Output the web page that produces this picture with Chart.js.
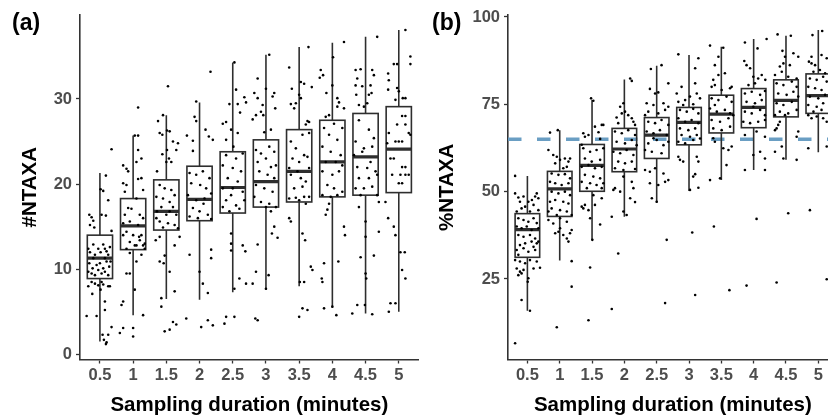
<!DOCTYPE html>
<html>
<head>
<meta charset="utf-8">
<script src="https://cdn.jsdelivr.net/npm/chart.js@4.4.1/dist/chart.umd.min.js"></script>
<style>
    html, body { margin: 0; padding: 0; background: #fff; overflow: hidden; }
    #wrap { position: relative; width: 828px; height: 416px; overflow: hidden; }
    canvas { position: absolute; top: 0; display: block; }
    #chartA { left: 0; }
    #chartB { left: 420px; }
    .tag { position: absolute; top: 11px; font: bold 23px "Liberation Sans", Arial, sans-serif; line-height: 23px; color: #000; }
</style>
</head>
<body>
<div id="wrap">
    <canvas id="chartA" width="420" height="416"></canvas>
    <canvas id="chartB" width="430" height="416"></canvas>
    <div class="tag" style="left:12px">(a)</div>
    <div class="tag" style="left:432px">(b)</div>
</div>
<script>
const durations = ['0.5', '1', '1.5', '2', '2.5', '3', '3.5', '4', '4.5', '5'];

// (a) #NTAXA boxplot stats per duration
const ntaxaLow  = [1.5, 4.6, 6.5, 6.4, 7.3, 7.6, 8.0, 5.5, 4.8, 5.0];
const ntaxaQ1   = [8.9, 12.3, 14.6, 15.7, 16.6, 17.3, 17.9, 18.5, 18.7, 19.0];
const ntaxaMed  = [11.3, 15.1, 16.8, 18.2, 19.6, 20.3, 21.5, 22.6, 23.2, 24.1];
const ntaxaQ3   = [14.0, 18.3, 20.5, 22.1, 23.8, 25.2, 26.4, 27.5, 28.3, 29.1];
const ntaxaHigh = [21.3, 25.7, 28.1, 29.6, 34.3, 35.2, 36.1, 36.6, 37.3, 38.1];
const ntaxaTicks = [0, 10, 20, 30];

// (b) %NTAXA boxplot stats per duration
const pctLow  = [15.9, 30.3, 36.1, 42.8, 46.8, 50.2, 53.3, 56.2, 59.1, 61.3];
const pctQ1   = [31.2, 42.9, 50.1, 55.7, 59.5, 63.4, 66.8, 68.3, 71.4, 72.4];
const pctMed  = [39.1, 50.8, 57.5, 62.2, 66.2, 69.8, 72.2, 74.1, 76.1, 77.5];
const pctQ3   = [43.7, 55.8, 63.5, 68.1, 71.2, 74.1, 77.6, 79.5, 82.0, 83.7];
const pctHigh = [54.5, 67.6, 76.2, 82.1, 86.0, 89.1, 91.5, 93.7, 94.6, 96.3];
const pctTicks = [25, 50, 75, 100];
const pctTarget = 65;

// jittered samples: [offset within the duration slot, value]
const ntaxaPoints = [
    [[0.35,24.1],[0.18,21.0],[0.02,19.4],[0.10,19.2],[0.25,18.1],[-0.32,16.4],[-0.25,16.1],[-0.20,15.7],[-0.17,14.9],[0.05,16.4],[0.18,16.3],[0.35,14.5],[-0.30,15.2],[-0.35,12.4],[-0.30,12.0],[-0.20,12.9],[-0.15,11.7],[-0.05,12.4],[0.02,12.0],[0.10,12.9],[0.15,12.4],[0.20,12.1],[0.25,11.7],[0.30,12.6],[-0.32,10.7],[-0.22,10.1],[-0.10,10.5],[0.00,10.7],[0.10,10.1],[0.20,10.9],[0.28,10.3],[-0.35,9.7],[-0.25,9.5],[-0.15,9.3],[-0.05,9.9],[0.05,9.5],[0.15,9.7],[0.25,9.3],[-0.20,11.3],[0.15,11.3],[0.32,10.9],[-0.25,8.5],[-0.15,8.3],[-0.05,8.1],[0.05,8.5],[0.10,8.2],[0.25,8.0],[-0.35,8.0],[-0.23,7.1],[0.02,7.6],[0.15,6.2],[0.30,8.0],[0.15,5.2],[-0.40,4.5],[-0.10,4.5],[0.35,3.2],[0.08,2.3],[0.25,2.3],[0.12,1.7],[0.20,1.4],[0.18,1.2]],
    [[0.15,29.0],[0.15,25.7],[0.05,25.7],[0.15,24.0],[0.25,23.0],[0.10,22.6],[-0.30,22.2],[-0.20,21.8],[-0.15,21.5],[0.25,20.7],[-0.30,20.1],[-0.20,19.9],[0.15,20.6],[0.30,19.3],[-0.25,19.1],[0.10,18.3],[-0.15,17.2],[-0.05,17.1],[-0.25,16.4],[0.20,16.4],[0.30,16.0],[-0.30,15.4],[-0.10,15.6],[0.15,15.2],[-0.20,14.4],[0.00,14.0],[0.20,13.4],[0.30,12.8],[0.35,13.0],[-0.10,13.2],[0.10,12.8],[0.25,14.0],[-0.30,14.0],[-0.20,12.4],[0.05,12.8],[0.35,12.4],[0.18,13.8],[-0.10,11.9],[0.25,11.7],[0.10,10.9],[-0.20,9.5],[-0.10,9.5],[0.05,7.6],[-0.30,6.2],[-0.35,5.8],[0.30,4.6],[-0.30,3.1],[0.00,3.1],[-0.40,2.5],[0.00,2.1]],
    [[0.05,31.5],[-0.10,28.1],[0.02,26.3],[-0.20,26.0],[-0.12,25.8],[-0.25,27.4],[0.10,26.2],[0.20,25.0],[0.35,24.8],[0.30,24.0],[0.02,24.0],[-0.12,23.5],[0.08,23.0],[0.00,22.6],[0.15,22.6],[-0.28,21.5],[-0.20,19.9],[-0.05,19.5],[0.15,19.3],[0.25,18.7],[-0.30,18.5],[-0.10,18.3],[0.10,17.9],[-0.15,17.3],[0.20,17.3],[-0.28,16.8],[0.00,16.4],[0.30,16.4],[-0.20,15.6],[0.05,15.4],[0.25,15.2],[0.35,14.8],[-0.10,14.9],[-0.30,16.0],[0.10,16.8],[-0.20,13.8],[-0.32,13.4],[0.40,13.8],[0.25,12.8],[-0.05,11.6],[-0.20,10.9],[-0.08,10.7],[0.10,9.7],[0.25,7.4],[-0.15,6.6],[-0.15,5.6],[0.20,3.8],[0.30,3.5],[0.10,2.9],[-0.05,2.7]],
    [[0.33,33.2],[-0.10,29.7],[-0.15,27.9],[-0.10,27.4],[0.18,26.4],[0.28,25.6],[0.40,25.2],[-0.38,25.7],[-0.20,25.1],[-0.20,23.9],[-0.30,21.3],[-0.10,21.1],[0.10,21.5],[0.30,20.7],[-0.25,20.1],[0.02,19.9],[0.20,19.5],[0.35,18.9],[-0.35,18.7],[-0.10,18.1],[0.12,17.7],[-0.20,17.2],[0.00,16.8],[0.25,16.4],[-0.30,16.2],[-0.05,16.0],[0.35,15.9],[0.15,18.3],[-0.30,11.7],[0.35,12.3],[0.35,11.3],[0.00,9.7],[0.10,8.3],[0.25,7.2],[-0.40,4.2],[0.25,4.0],[0.05,3.2],[0.40,3.4]],
    [[0.05,34.3],[0.10,31.1],[-0.10,29.4],[0.15,29.4],[0.35,30.2],[0.40,29.6],[-0.30,27.1],[-0.20,27.3],[-0.05,26.4],[0.15,26.0],[-0.20,25.2],[0.22,28.4],[0.02,24.4],[-0.20,23.4],[0.10,23.0],[0.30,23.6],[-0.30,22.2],[0.00,21.9],[0.25,21.5],[-0.15,20.7],[0.15,20.3],[-0.30,19.5],[-0.05,18.7],[0.30,19.1],[-0.20,18.1],[0.10,17.5],[0.20,17.1],[-0.30,17.3],[0.00,19.5],[0.35,18.1],[-0.10,16.8],[-0.05,14.2],[-0.05,13.0],[-0.05,12.2],[0.30,12.8],[0.38,12.1],[0.20,8.9],[0.40,8.3],[0.05,7.7],[-0.20,4.4],[0.05,4.4],[-0.25,3.6]],
    [[0.10,35.2],[-0.25,32.4],[-0.35,30.7],[-0.25,30.1],[0.00,31.2],[0.20,30.3],[0.25,30.7],[0.28,28.9],[-0.10,29.3],[-0.15,28.5],[-0.08,28.1],[-0.30,28.1],[-0.40,27.6],[-0.05,26.1],[0.15,26.4],[-0.30,24.0],[-0.15,23.6],[0.10,24.4],[0.25,23.8],[-0.25,22.6],[0.00,23.0],[0.15,22.0],[0.30,22.2],[-0.20,21.5],[0.05,21.1],[0.25,20.7],[-0.30,19.9],[-0.05,19.5],[0.20,19.1],[-0.15,17.9],[0.10,17.7],[0.30,17.3],[-0.35,18.5],[0.00,17.3],[0.15,16.8],[0.25,15.0],[0.18,14.2],[0.35,13.7],[-0.25,12.9],[-0.30,9.7],[0.08,9.3],[-0.40,8.3],[0.00,7.7],[-0.32,4.2],[-0.25,4.0]],
    [[0.28,36.1],[-0.30,33.7],[0.05,32.0],[0.15,31.8],[-0.22,31.2],[0.00,30.5],[0.05,30.1],[-0.10,29.5],[-0.15,28.9],[-0.25,29.4],[0.25,27.4],[0.30,27.3],[0.20,27.0],[0.38,31.4],[-0.25,25.0],[0.10,25.8],[0.30,26.0],[-0.10,24.2],[0.15,23.4],[-0.20,23.0],[0.00,22.6],[0.25,23.2],[-0.30,21.9],[-0.05,21.5],[0.30,21.9],[-0.25,21.1],[0.05,20.7],[0.20,20.3],[-0.15,19.5],[0.10,19.7],[0.30,18.5],[-0.30,18.3],[0.00,18.1],[0.15,18.5],[-0.10,18.4],[0.20,17.7],[-0.30,16.0],[-0.25,15.6],[0.10,14.2],[0.18,13.4],[0.35,10.3],[0.40,9.9],[0.02,8.5],[0.15,8.5],[0.00,4.4],[0.25,5.2],[0.10,5.4]],
    [[0.35,36.7],[0.02,34.9],[-0.35,33.4],[-0.28,32.8],[-0.38,32.5],[-0.18,30.7],[0.00,31.6],[0.15,30.1],[0.20,29.6],[-0.10,28.1],[-0.20,27.9],[0.35,28.9],[0.15,29.1],[-0.25,26.6],[0.05,27.1],[0.30,26.6],[-0.10,25.8],[0.15,25.2],[-0.30,24.4],[-0.05,23.8],[0.25,23.4],[-0.20,22.6],[0.10,22.6],[0.30,22.2],[-0.30,21.5],[0.00,21.1],[0.20,21.5],[-0.15,19.9],[0.05,19.5],[0.30,19.1],[-0.30,18.7],[-0.05,18.5],[0.15,18.7],[-0.10,17.7],[-0.15,17.0],[-0.20,16.4],[0.35,15.0],[0.38,14.0],[-0.25,10.7],[0.18,10.9],[-0.32,8.9],[-0.30,8.5],[0.00,5.6],[0.12,4.6],[-0.25,5.4]],
    [[0.35,37.3],[-0.30,33.4],[-0.15,33.5],[-0.25,32.4],[-0.30,31.6],[-0.28,30.5],[-0.20,29.3],[-0.05,29.1],[0.10,30.5],[0.15,31.6],[0.20,33.4],[0.25,32.8],[0.18,30.7],[-0.10,31.5],[0.05,29.5],[-0.20,27.5],[0.10,26.4],[0.25,25.4],[-0.30,25.0],[-0.05,24.2],[0.20,24.4],[-0.35,23.4],[-0.10,23.8],[0.15,22.6],[-0.25,22.0],[0.05,21.9],[0.30,21.5],[-0.20,20.7],[0.10,20.7],[0.35,21.1],[-0.30,19.5],[-0.05,19.5],[0.20,19.7],[-0.15,18.7],[0.35,18.7],[-0.20,17.3],[0.40,17.9],[0.00,15.6],[0.40,14.4],[0.00,13.8],[-0.15,11.4],[0.25,11.6],[0.00,9.5],[0.02,8.9],[-0.40,4.8],[-0.25,5.8],[-0.02,5.8],[0.20,4.7]],
    [[0.20,38.1],[0.35,35.0],[0.35,34.1],[-0.05,34.1],[-0.15,34.1],[-0.32,33.0],[-0.30,32.2],[-0.05,31.3],[-0.32,31.1],[0.00,30.9],[0.20,30.1],[-0.10,29.9],[0.12,30.1],[0.10,28.0],[0.20,28.0],[-0.05,27.0],[0.20,27.0],[0.30,26.0],[-0.30,26.0],[-0.10,25.0],[0.00,25.0],[0.10,25.0],[-0.25,23.0],[-0.15,23.0],[0.10,22.0],[0.20,22.0],[-0.20,21.1],[0.05,21.1],[0.20,21.1],[0.30,21.1],[0.00,20.1],[0.10,20.1],[-0.35,24.8],[0.35,25.8],[-0.40,17.9],[-0.32,16.0],[-0.15,15.0],[-0.10,14.0],[0.05,12.0],[0.18,12.0],[0.10,9.9],[0.20,8.9],[-0.25,6.0],[-0.10,6.0],[-0.30,5.0]]
];

const pctPoints = [
    [[-0.38,54.5],[-0.38,49.5],[-0.28,48.3],[-0.23,47.1],[-0.12,48.6],[0.03,47.1],[0.14,47.6],[0.24,48.6],[0.29,49.5],[0.34,48.1],[0.19,46.2],[-0.07,45.7],[-0.18,45.2],[-0.33,44.3],[0.08,44.3],[0.34,44.7],[-0.28,42.4],[-0.12,41.9],[0.03,41.4],[0.19,42.4],[0.29,41.0],[-0.33,40.0],[-0.18,39.5],[-0.02,40.0],[0.13,39.0],[0.34,39.5],[-0.28,37.6],[-0.12,37.1],[0.08,37.6],[0.24,36.6],[-0.23,34.7],[-0.07,35.2],[0.13,35.7],[0.29,35.2],[-0.33,33.3],[-0.12,33.8],[0.03,32.8],[0.24,33.3],[-0.28,31.9],[0.34,35.7],[0.19,34.2],[-0.38,30.4],[-0.23,30.0],[-0.07,29.5],[0.08,30.4],[0.29,30.0],[0.39,28.2],[-0.33,28.0],[-0.23,27.1],[-0.12,27.6],[0.19,28.0],[-0.28,26.1],[-0.18,26.6],[0.03,25.2],[0.01,24.2],[-0.18,19.0],[0.08,15.9],[-0.38,6.6]],
    [[-0.30,66.9],[-0.06,67.6],[-0.35,61.9],[-0.20,60.5],[-0.09,60.0],[0.01,59.1],[0.16,59.5],[0.27,58.6],[-0.14,58.1],[0.11,56.7],[0.32,59.5],[0.22,57.1],[-0.25,55.2],[-0.04,54.8],[0.16,55.0],[0.32,53.8],[-0.30,52.8],[-0.14,52.4],[0.06,51.9],[0.27,52.4],[-0.25,50.0],[-0.04,49.5],[0.16,50.0],[0.32,49.0],[-0.30,47.1],[-0.14,47.6],[0.11,47.1],[0.27,46.6],[-0.25,45.2],[0.01,44.7],[0.22,44.3],[0.37,43.3],[-0.35,44.3],[-0.09,43.3],[-0.35,41.9],[-0.20,40.9],[0.01,42.4],[0.22,41.4],[-0.14,38.1],[-0.04,38.5],[0.11,37.6],[0.22,36.6],[0.32,38.1],[0.37,39.0],[0.27,35.7],[0.37,30.1],[0.37,22.8],[-0.09,11.2],[0.01,39.5]],
    [[-0.03,76.7],[0.04,76.0],[-0.27,66.7],[-0.11,66.2],[0.20,67.0],[0.30,69.1],[0.35,69.1],[0.09,68.6],[-0.22,65.7],[0.25,65.1],[-0.32,63.4],[-0.27,62.4],[-0.06,61.4],[0.14,61.9],[0.35,62.4],[-0.22,59.5],[-0.01,58.6],[0.25,59.1],[-0.32,57.1],[-0.11,57.6],[0.09,56.7],[0.30,57.1],[-0.22,54.8],[0.04,54.3],[0.25,53.8],[-0.32,52.8],[-0.06,52.4],[0.14,51.9],[0.35,52.4],[-0.16,51.0],[0.30,51.0],[-0.22,46.2],[-0.27,45.2],[-0.11,44.7],[-0.32,45.7],[0.04,49.0],[0.30,48.1],[0.09,46.2],[-0.06,42.4],[0.25,40.6],[0.01,36.2],[-0.06,28.3],[-0.11,13.2]],
    [[0.18,82.4],[0.23,81.7],[-0.03,75.3],[-0.13,74.3],[0.02,72.9],[0.12,71.9],[-0.24,71.2],[0.23,71.0],[0.28,70.0],[0.33,69.1],[-0.19,69.6],[-0.08,72.4],[-0.29,67.2],[-0.08,66.7],[0.12,67.6],[0.33,66.2],[-0.24,64.3],[0.02,63.8],[0.23,64.8],[0.38,63.3],[-0.34,61.4],[-0.13,61.0],[0.07,61.9],[0.28,60.5],[-0.19,58.6],[0.02,58.1],[0.23,58.6],[-0.29,56.7],[-0.03,56.2],[0.33,56.5],[-0.34,50.5],[-0.29,51.0],[-0.13,50.0],[-0.03,54.3],[0.23,52.8],[0.28,51.0],[0.18,48.1],[0.33,47.0],[-0.03,44.3],[0.07,43.3],[-0.39,42.8],[-0.19,32.3],[-0.39,16.4]],
    [[0.15,86.2],[-0.18,85.1],[-0.21,79.4],[-0.05,78.1],[0.05,78.4],[0.36,81.0],[-0.31,75.3],[-0.10,74.8],[0.21,75.3],[0.36,74.3],[-0.26,72.9],[0.05,72.4],[0.26,73.4],[-0.36,71.9],[-0.26,70.0],[-0.05,69.6],[0.15,70.5],[0.36,69.1],[-0.31,67.2],[-0.10,66.7],[0.10,67.6],[0.31,66.2],[-0.26,63.8],[0.00,64.8],[0.21,63.3],[0.36,64.3],[-0.36,61.9],[-0.15,61.4],[0.15,61.0],[-0.10,65.3],[-0.36,56.2],[-0.21,55.7],[-0.05,56.7],[0.21,55.2],[0.26,52.8],[0.36,53.3],[-0.21,52.4],[0.05,51.9],[-0.15,48.1],[0.00,47.1],[0.31,36.2],[0.26,18.1]],
    [[-0.33,89.3],[0.29,88.2],[0.19,85.3],[-0.23,80.0],[-0.38,78.1],[0.03,77.2],[0.24,78.1],[-0.33,75.7],[-0.12,76.2],[0.34,76.7],[0.13,75.0],[-0.18,74.8],[0.19,81.0],[-0.28,73.4],[-0.07,72.9],[0.13,73.7],[0.29,72.4],[-0.33,71.0],[-0.12,70.0],[0.08,70.5],[0.29,69.6],[-0.28,68.1],[-0.02,67.6],[0.19,68.1],[-0.23,66.2],[0.03,65.7],[0.24,66.2],[-0.33,64.3],[-0.12,63.8],[0.13,64.8],[0.34,65.2],[-0.33,60.0],[-0.28,59.1],[-0.18,58.6],[0.24,60.0],[0.29,58.6],[0.13,54.3],[0.19,55.0],[0.29,51.1],[0.03,50.5],[0.10,38.3],[0.19,20.4]],
    [[-0.35,91.8],[-0.09,88.6],[0.06,91.2],[-0.20,86.2],[-0.09,83.4],[-0.30,80.0],[-0.20,80.5],[0.11,83.9],[0.27,79.6],[0.32,80.0],[0.01,79.1],[-0.25,82.0],[-0.30,76.7],[-0.09,76.2],[0.16,77.2],[0.32,75.7],[-0.35,73.8],[-0.14,72.9],[0.11,73.4],[0.27,72.4],[-0.30,70.5],[-0.04,70.0],[0.22,71.0],[-0.25,68.1],[0.01,67.6],[0.27,68.6],[0.37,71.9],[-0.20,74.8],[-0.25,65.3],[-0.20,64.3],[0.06,62.4],[0.22,61.9],[0.32,62.9],[0.16,57.6],[-0.04,53.8],[-0.35,53.3],[-0.23,40.0],[0.25,21.8]],
    [[-0.27,92.7],[0.40,93.7],[0.12,91.0],[-0.22,86.2],[-0.11,85.3],[-0.01,82.9],[0.14,82.4],[0.25,83.4],[0.36,82.0],[0.04,81.0],[-0.16,80.5],[-0.29,87.4],[-0.27,78.1],[-0.06,78.6],[0.20,77.7],[0.35,78.8],[-0.22,75.7],[0.04,75.3],[0.25,76.2],[-0.27,72.9],[-0.06,72.4],[0.20,73.4],[0.35,71.9],[-0.32,70.0],[-0.11,69.6],[0.14,70.0],[0.35,70.5],[-0.01,74.3],[-0.27,66.2],[0.09,67.2],[0.35,65.7],[-0.01,60.5],[0.20,61.4],[0.35,59.5],[-0.27,56.2],[0.35,56.2],[0.09,42.2],[-0.22,23.1]],
    [[-0.26,95.0],[0.15,94.6],[-0.11,90.3],[-0.08,86.7],[0.12,86.2],[-0.19,85.8],[0.23,89.6],[0.38,88.6],[-0.34,83.4],[0.07,82.9],[0.33,82.4],[-0.13,84.3],[-0.03,88.6],[-0.29,81.0],[-0.08,80.5],[0.18,81.5],[0.33,80.0],[-0.24,78.1],[0.02,77.7],[0.23,78.6],[0.38,77.2],[-0.29,75.3],[-0.08,74.8],[0.18,75.7],[-0.19,72.9],[0.07,72.4],[0.33,73.4],[-0.34,71.9],[-0.03,71.9],[-0.19,70.0],[-0.24,69.1],[-0.29,68.1],[-0.34,67.6],[0.38,67.2],[0.33,65.7],[-0.13,62.9],[-0.08,59.5],[0.33,59.1],[-0.34,61.4],[0.07,43.8],[-0.29,24.0]],
    [[-0.18,94.8],[0.12,96.0],[-0.29,87.2],[-0.21,86.7],[-0.10,86.2],[0.10,89.1],[0.26,88.2],[-0.15,84.3],[0.05,84.8],[0.21,83.9],[-0.21,88.6],[-0.26,82.4],[-0.05,82.0],[0.15,82.9],[0.26,81.5],[-0.31,80.0],[-0.10,79.6],[0.10,79.1],[-0.26,77.2],[0.00,76.7],[0.21,77.7],[-0.31,74.8],[-0.05,74.3],[0.15,75.3],[-0.15,72.9],[0.10,73.4],[-0.31,71.9],[-0.21,71.0],[-0.05,71.5],[0.15,71.0],[0.26,70.0],[-0.31,62.4],[0.26,62.9],[-0.26,44.7],[0.26,24.9]]
];

Chart.defaults.font.family = '"Liberation Sans", Arial, sans-serif';

function jitterData(groups) {
    var out = [];
    groups.forEach(function (g, i) {
        g.forEach(function (p) { out.push({ x: i + 1 + p[0], y: p[1] }); });
    });
    return out;
}

// boxes, whiskers and the reference line, drawn under the points
const boxPlugin = {
    id: 'boxes',
    beforeDatasetsDraw(chart, args, opts) {
        const ctx = chart.ctx, xs = chart.scales.x, ys = chart.scales.y, a = chart.chartArea;
        ctx.save();
        ctx.beginPath();
        ctx.rect(a.left, a.top, a.right - a.left, a.bottom - a.top);
        ctx.clip();
        if (opts.refLine !== null) {
            const py = ys.getPixelForValue(opts.refLine);
            ctx.strokeStyle = '#6a9ec3';
            ctx.lineWidth = 3.5;
            ctx.setLineDash([13.5, 15.5]);
            ctx.beginPath();
            ctx.moveTo(a.left, py);
            ctx.lineTo(a.right, py);
            ctx.stroke();
            ctx.setLineDash([]);
        }
        ctx.strokeStyle = '#2e2e2e';
        for (let i = 0; i < opts.med.length; i++) {
            const cx = xs.getPixelForValue(i + 1);
            const half = xs.getPixelForValue(i + 1.38) - cx;
            const yLow = ys.getPixelForValue(opts.low[i]), yQ1 = ys.getPixelForValue(opts.q1[i]);
            const yMed = ys.getPixelForValue(opts.med[i]), yQ3 = ys.getPixelForValue(opts.q3[i]);
            const yHigh = ys.getPixelForValue(opts.high[i]);
            ctx.lineWidth = 1.6;
            ctx.beginPath();
            ctx.moveTo(cx, yHigh); ctx.lineTo(cx, yQ3);
            ctx.moveTo(cx, yQ1); ctx.lineTo(cx, yLow);
            ctx.stroke();
            ctx.strokeRect(cx - half, yQ3, 2 * half, yQ1 - yQ3);
            ctx.lineWidth = 3.2;
            ctx.beginPath();
            ctx.moveTo(cx - half, yMed); ctx.lineTo(cx + half, yMed);
            ctx.stroke();
        }
        ctx.restore();
    }
};

function makePanel(id, cfg) {
    const tickFont = { size: 16.5, weight: 'bold' };
    const titleFont = { size: 20.5, weight: 'bold', lineHeight: 1 };
    return new Chart(document.getElementById(id), {
        type: 'scatter',
        data: {
            datasets: [{
                data: jitterData(cfg.points),
                pointRadius: 1.3,
                pointHoverRadius: 0,
                pointBackgroundColor: '#000',
                pointBorderWidth: 0
            }]
        },
        options: {
            responsive: false,
            animation: false,
            events: [],
            layout: { padding: { top: 15, right: cfg.padRight, left: 0, bottom: 0 } },
            plugins: {
                legend: { display: false },
                tooltip: { enabled: false },
                boxes: { low: cfg.low, q1: cfg.q1, med: cfg.med, q3: cfg.q3, high: cfg.high, refLine: cfg.refLine }
            },
            scales: {
                x: {
                    type: 'linear',
                    min: 0.4,
                    max: 10.6,
                    afterBuildTicks: function (s) { s.ticks = durations.map(function (d, i) { return { value: i + 1 }; }); },
                    afterFit: function (s) { s.height = 56.5; },
                    ticks: { font: tickFont, color: '#4d4d4d', padding: 2.4, autoSkip: false, maxRotation: 0,
                             callback: function (v, i) { return durations[i]; } },
                    grid: { drawOnChartArea: false, drawTicks: true, tickLength: 4, tickWidth: 1.3, tickColor: '#333', color: '#333' },
                    border: { display: true, color: '#333', width: 1.6 },
                    title: { display: true, text: 'Sampling duration (minutes)', font: titleFont, color: '#000', padding: { top: 0, bottom: 0.75 } }
                },
                y: {
                    type: 'linear',
                    min: cfg.yMin,
                    max: cfg.yMax,
                    afterBuildTicks: function (s) { s.ticks = cfg.yTicks.map(function (v) { return { value: v }; }); },
                    afterFit: function (s) { s.width = cfg.yWidth; },
                    ticks: { font: tickFont, color: '#4d4d4d', padding: 4 },
                    grid: { drawOnChartArea: false, drawTicks: true, tickLength: 4, tickWidth: 1.3, tickColor: '#333', color: '#333' },
                    border: { display: true, color: '#333', width: 1.6 },
                    title: { display: true, text: cfg.yTitle, font: titleFont, color: '#000', padding: { top: cfg.titlePad, bottom: 0 } }
                }
            }
        },
        plugins: [boxPlugin]
    });
}

makePanel('chartA', {
    points: ntaxaPoints, low: ntaxaLow, q1: ntaxaQ1, med: ntaxaMed, q3: ntaxaQ3, high: ntaxaHigh,
    refLine: null, yMin: -0.61, yMax: 39.87, yTicks: ntaxaTicks, yTitle: '#NTAXA',
    yWidth: 80, padRight: 0, titlePad: 19.75
});

makePanel('chartB', {
    points: pctPoints, low: pctLow, q1: pctQ1, med: pctMed, q3: pctQ3, high: pctHigh,
    refLine: pctTarget, yMin: 1.95, yMax: 100.56, yTicks: pctTicks, yTitle: '%NTAXA',
    yWidth: 88, padRight: 12.3, titlePad: 17.25
});
</script>
</body>
</html>
